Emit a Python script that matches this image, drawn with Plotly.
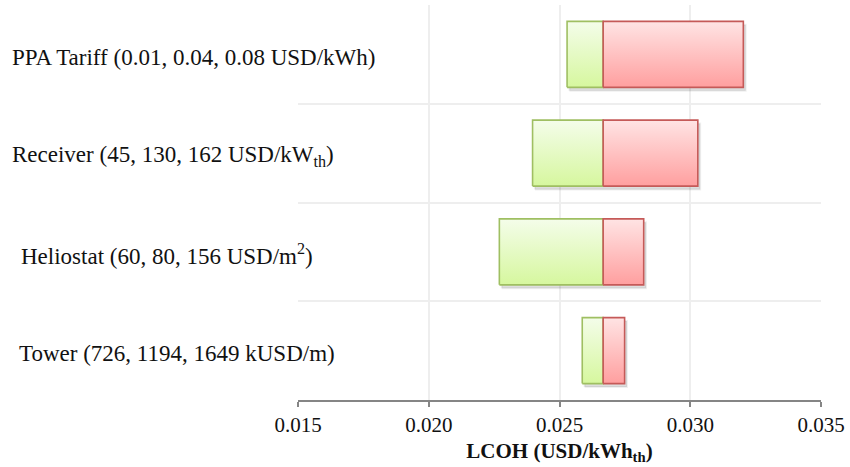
import plotly.graph_objects as go

# Tornado chart: LCOH sensitivity to four design/economic parameters
parameters = [
    "Tower (726, 1194, 1649 kUSD/m)",
    "Heliostat (60, 80, 156 USD/m<sup>2</sup>)",
    "Receiver (45, 130, 162 USD/kW<sub>th</sub>)",
    "PPA Tariff (0.01, 0.04, 0.08 USD/kWh)",
]
lcoh_base = 0.02667
lcoh_low = [0.02587, 0.02270, 0.02397, 0.02529]
lcoh_high = [0.02749, 0.02822, 0.03029, 0.03203]
x_ticks = [0.015, 0.020, 0.025, 0.030, 0.035]
x_tick_text = ["0.015", "0.020", "0.025", "0.030", "0.035"]

# layout constants
W, H = 850, 467
ML, MR, MT, MB = 298, 25, 5, 67
HALF = 0.334            # half bar thickness in category units
SHADOW_DX, SHADOW_DY = 0.00009, 0.035   # drop-shadow offset in axis units
LABEL_INDENT = [17, 19, 10, 10]  # left offset of each row label (px from page edge)
FONT = "Liberation Serif, Times New Roman, serif"

GREEN = dict(line="#9fbf62", top="#f4fdea", bottom="#d6f79e")
RED = dict(line="#c55a58", top="#ffe4e4", bottom="#ff9f9f")


def rect(x0, x1, yc):
    return [x0, x1, x1, x0, x0], [yc - HALF, yc - HALF, yc + HALF, yc + HALF, yc - HALF]


def shadow_trace(x0, x1, yc):
    xs, ys = rect(x0 + SHADOW_DX, x1 + SHADOW_DX, yc - SHADOW_DY)
    return go.Scatter(
        x=xs, y=ys, mode="lines", fill="toself",
        fillcolor="rgba(0,0,0,0.13)", line=dict(color="rgba(0,0,0,0.06)", width=2),
        hoverinfo="skip", showlegend=False,
    )


def bar_trace(x0, x1, yc, style):
    xs, ys = rect(x0, x1, yc)
    return go.Scatter(
        x=xs, y=ys,
        mode="lines",
        fill="toself",
        fillgradient=dict(
            type="vertical",
            colorscale=[[0, style["bottom"]], [1, style["top"]]],
        ),
        line=dict(color=style["line"], width=1.6),
        hoverinfo="skip",
        showlegend=False,
    )


fig = go.Figure()
for i, (lo, hi) in enumerate(zip(lcoh_low, lcoh_high)):
    fig.add_trace(shadow_trace(lo, hi, i))
for i, (lo, hi) in enumerate(zip(lcoh_low, lcoh_high)):
    fig.add_trace(bar_trace(lo, lcoh_base, i, GREEN))
    fig.add_trace(bar_trace(lcoh_base, hi, i, RED))

n = len(parameters)
for i, name in enumerate(parameters):
    fig.add_annotation(
        text=name, xref="paper", yref="y", x=0, y=i,
        xanchor="left", yanchor="middle",
        xshift=LABEL_INDENT[i] - ML, yshift=-3,
        showarrow=False,
        font=dict(family=FONT, size=23, color="#111111"),
    )

fig.update_layout(
    width=W, height=H,
    margin=dict(l=ML, r=MR, t=MT, b=MB),
    paper_bgcolor="white", plot_bgcolor="white",
    font=dict(family=FONT, size=21, color="#111111"),
)
fig.update_xaxes(
    range=[x_ticks[0], x_ticks[-1]],
    tickvals=x_ticks, ticktext=x_tick_text,
    showgrid=True, gridcolor="#eeeeee", gridwidth=1.5,
    showline=True, linecolor="#858585", linewidth=1.5,
    ticks="outside", ticklen=5, tickcolor="#858585", tickwidth=1.5,
    zeroline=False,
    tickfont=dict(family=FONT, size=21, color="#111111"),
    title=dict(
        text="<b>LCOH (USD/kWh<sub>th</sub>)</b>",
        font=dict(family=FONT, size=21, color="#111111"),
        standoff=7,
    ),
)
fig.update_yaxes(
    range=[-0.5, n - 0.5],
    tickvals=[k - 0.5 for k in range(n + 1)],
    showticklabels=False,
    showgrid=True, gridcolor="#eeeeee", gridwidth=1.5,
    zeroline=False, showline=False, ticks="",
)

fig.write_html("out.html")
